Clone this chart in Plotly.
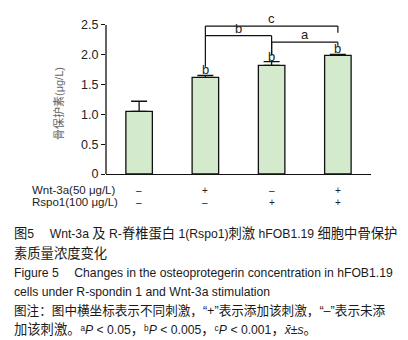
import plotly.graph_objects as go

# ---- data ----
groups = ["Control", "Wnt-3a", "Rspo1", "Wnt-3a+Rspo1"]
means = [1.05, 1.62, 1.82, 1.99]
errors = [0.17, 0.035, 0.065, 0.015]
bar_labels = ["", "b", "b", "b"]
wnt_signs = ["–", "+", "–", "+"]
rspo_signs = ["–", "–", "+", "+"]
row_names = ["Wnt-3a(50 μg/L)", "Rspo1(100 μg/L)"]
y_ticks = [0, 0.5, 1.0, 1.5, 2.0, 2.5]
y_ticktext = ["0", "0.5", "1.0", "1.5", "2.0", "2.5"]
# brackets: (left group, right group, level, label, left-leg bottom, right-leg bottom)
brackets = [
    (1, 3, 2.48, "c", 1.80, 2.37),
    (1, 2, 2.32, "b", 2.32, 1.99),
    (2, 3, 2.21, "a", 1.99, 2.15),
]


def lat(s, size=12.2):
    return '<span style="font-size:%spx">%s</span>' % (size, s)


caption = [
    ("图" + lat("5\u2003 Wnt-3a ") + "及" + lat(" R-") + "脊椎蛋白" + lat(" 1(Rspo1)")
     + "刺激" + lat(" hFOB1.19 ") + "细胞中骨保护", 13.3),
    ("素质量浓度变化", 13.3),
    ("Figure 5\u2003 Changes in the osteoprotegerin concentration in hFOB1.19", 12.2),
    ("cells under R-spondin 1 and Wnt-3a stimulation", 12.2),
    ("图注：图中横坐标表示不同刺激，“+”表示添加该刺激，“–”表示未添", 12.6),
    ("加该刺激。" + lat("ᵃ<i>P</i> < 0.05") + "，" + lat("ᵇ<i>P</i> < 0.005")
     + "，" + lat("ᶜ<i>P</i> < 0.001") + "，" + lat("<i>x̄</i>±<i>s</i>") + "。", 13.3),
]

W, H = 408, 340
FONT = "Liberation Sans, Arial, Noto Sans CJK SC, DejaVu Sans, sans-serif"
x_idx = list(range(len(groups)))

fig = go.Figure()
fig.add_trace(go.Bar(
    x=x_idx, y=means, width=0.4,
    marker=dict(color="#d3ebcc", line=dict(color="#111", width=1.3)),
    error_y=dict(type="data", symmetric=False, array=errors,
                 arrayminus=[0] * len(errors), color="#111",
                 thickness=1.3, width=8),
    showlegend=False,
))

ydom0 = (H - 166) / H
ydom1 = (H - 5) / H
fig.update_layout(
    width=W, height=H,
    margin=dict(l=0, r=0, t=0, b=0),
    paper_bgcolor="white", plot_bgcolor="white",
    font=dict(family=FONT, color="#222", size=12),
    xaxis=dict(domain=[98 / W, 363 / W], range=[-0.5, 3.5], automargin=False,
               showline=True, linecolor="#111", linewidth=1.3,
               showticklabels=False, ticks="", showgrid=False,
               zeroline=False, fixedrange=True),
    yaxis=dict(domain=[ydom0, ydom1], range=[0, 2.7], automargin=False,
               showline=False, tickvals=y_ticks, ticktext=y_ticktext,
               ticks="outside", ticklen=4, tickwidth=1.2, tickcolor="#111",
               showgrid=False, zeroline=False,
               tickfont=dict(size=12.5, color="#222"), fixedrange=True),
)

shapes = []
# y axis line from 0 to 2.5
shapes.append(dict(type="line", xref="x domain", yref="y", x0=0, x1=0,
                   y0=y_ticks[0], y1=y_ticks[-1],
                   line=dict(color="#111", width=1.3)))
annotations = []
for (a, b, lvl, lab, lbot, rbot) in brackets:
    shapes.append(dict(type="line", xref="x", yref="y", x0=a, x1=b, y0=lvl, y1=lvl,
                       line=dict(color="#111", width=1.2)))
    shapes.append(dict(type="line", xref="x", yref="y", x0=a, x1=a, y0=lvl, y1=lbot,
                       line=dict(color="#111", width=1.2)))
    shapes.append(dict(type="line", xref="x", yref="y", x0=b, x1=b, y0=lvl, y1=rbot,
                       line=dict(color="#111", width=1.2)))
    annotations.append(dict(x=(a + b) / 2, y=lvl, xref="x", yref="y", text=lab,
                            showarrow=False, yanchor="bottom", yshift=-2,
                            font=dict(size=13, color="#222")))

for i, lab in enumerate(bar_labels):
    if lab:
        annotations.append(dict(x=x_idx[i], y=means[i] + errors[i], xref="x", yref="y",
                                text=lab, showarrow=False, yanchor="bottom", yshift=-4,
                                font=dict(size=13, color="#222")))

# y axis title
annotations.append(dict(x=50 / W, y=(H - 96) / H, xref="paper", yref="paper",
                        text="骨保护素(μg/L)", textangle=-90, showarrow=False,
                        xanchor="center", yanchor="middle",
                        font=dict(size=11, color="#666")))

# treatment table
row_y = [182, 194]
for r, (name, signs) in enumerate(zip(row_names, [wnt_signs, rspo_signs])):
    annotations.append(dict(x=22 / W, y=(H - row_y[r]) / H, xref="paper", yref="paper",
                            text=name, showarrow=False, xanchor="left", yanchor="middle",
                            font=dict(size=11.5, color="#222")))
    for i, s in enumerate(signs):
        annotations.append(dict(x=x_idx[i], y=(H - row_y[r]) / H, xref="x", yref="paper",
                                text=s, showarrow=False, xanchor="center", yanchor="middle",
                                font=dict(size=10, color="#222")))

# caption
cap_y = [225, 245, 265, 284, 303, 321]
for (line, size), yy in zip(caption, cap_y):
    annotations.append(dict(x=4 / W, y=(H - yy) / H, xref="paper", yref="paper",
                            text=line, showarrow=False, xanchor="left", yanchor="middle",
                            font=dict(size=size, color="#1a1a1a")))

fig.update_layout(shapes=shapes, annotations=annotations)
fig.write_html("out.html")
